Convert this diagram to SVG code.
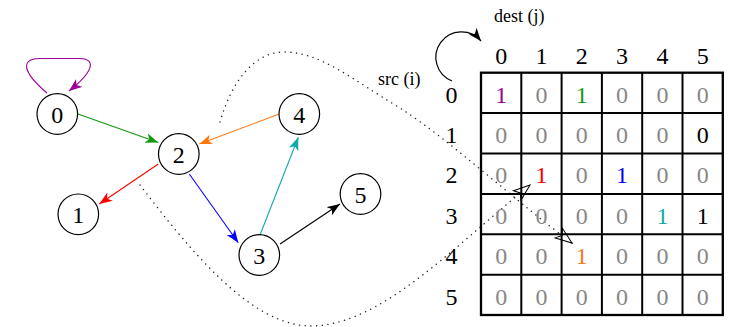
<svg xmlns="http://www.w3.org/2000/svg" width="737" height="327" viewBox="0 0 737 327">
<style>
.node circle{fill:#fff;stroke:#000;stroke-width:1.2}
text{font-family:"Liberation Serif","Times New Roman",serif}
.lbl{font-family:"Liberation Serif","Times New Roman",serif;font-size:24px;text-anchor:middle;fill:#000}
.cap{font-family:"Liberation Serif","Times New Roman",serif;font-size:18px;fill:#000}
.cell{font-family:"Liberation Serif","Times New Roman",serif;font-size:24px;text-anchor:middle;fill:#888}
.edge{fill:none;stroke-width:1.1}
.dot{fill:none;stroke:#222;stroke-width:1.4;stroke-linecap:round;stroke-dasharray:0.1 5.6}
.grid line{stroke:#000;stroke-width:2}
</style>
<defs>
<marker id="aGreen" markerUnits="userSpaceOnUse" markerWidth="16" markerHeight="12" refX="13" refY="5" orient="auto"><path d="M13,5 L0,0 L3.5,5 L0,10 Z" fill="#119911"/></marker>
<marker id="aOrange" markerUnits="userSpaceOnUse" markerWidth="16" markerHeight="12" refX="13" refY="5" orient="auto"><path d="M13,5 L0,0 L3.5,5 L0,10 Z" fill="#ff7711"/></marker>
<marker id="aRed" markerUnits="userSpaceOnUse" markerWidth="16" markerHeight="12" refX="13" refY="5" orient="auto"><path d="M13,5 L0,0 L3.5,5 L0,10 Z" fill="#ff0000"/></marker>
<marker id="aBlue" markerUnits="userSpaceOnUse" markerWidth="16" markerHeight="12" refX="13" refY="5" orient="auto"><path d="M13,5 L0,0 L3.5,5 L0,10 Z" fill="#0000ff"/></marker>
<marker id="aCyan" markerUnits="userSpaceOnUse" markerWidth="16" markerHeight="12" refX="13" refY="5" orient="auto"><path d="M13,5 L0,0 L3.5,5 L0,10 Z" fill="#11aaaa"/></marker>
<marker id="aBlack" markerUnits="userSpaceOnUse" markerWidth="16" markerHeight="12" refX="13" refY="5" orient="auto"><path d="M13,5 L0,0 L3.5,5 L0,10 Z" fill="#000"/></marker>
<marker id="aPurple" markerUnits="userSpaceOnUse" markerWidth="16" markerHeight="12" refX="13" refY="5" orient="auto"><path d="M13,5 L0,0 L3.5,5 L0,10 Z" fill="#990099"/></marker>
<marker id="aOpen" markerUnits="userSpaceOnUse" markerWidth="22" markerHeight="16" refX="18" refY="8" orient="auto"><path d="M18,8 L1.5,2 L5.5,8 L1.5,14 Z" fill="#fff" stroke="#000" stroke-width="1" stroke-linejoin="miter"/></marker>
</defs>

<g id="connectors">
<path class="edge" stroke="#990099" d="M47,93 C20,70 22,58.5 40,58.5 L80,58.5 C97,59 93,72 69,91" marker-end="url(#aPurple)"/>
<line class="edge" stroke="#119911" x1="78" y1="114" x2="158.3" y2="142.5" marker-end="url(#aGreen)"/>
<line class="edge" stroke="#ff7711" x1="279.3" y1="114" x2="199.3" y2="144" marker-end="url(#aOrange)"/>
<line class="edge" stroke="#ff0000" x1="158.3" y1="164" x2="99.3" y2="204" marker-end="url(#aRed)"/>
<line class="edge" stroke="#0000ff" x1="189.3" y1="174" x2="238.3" y2="242.7" marker-end="url(#aBlue)"/>
<line class="edge" stroke="#11aaaa" x1="260" y1="235" x2="298.3" y2="137.3" marker-end="url(#aCyan)"/>
<line class="edge" stroke="#000" x1="280" y1="244" x2="340" y2="204" marker-end="url(#aBlack)"/>
<path class="dot" d="M220,122 C232,80 255,52 284,52 C320,52 350,78 400,108 C450,140 520,205 572,243"/>
<path fill="none" stroke="none" d="M560,234 L572,243" marker-end="url(#aOpen)"/>
<path class="dot" d="M140,185 C190,250 250,325 310,326 C380,326 450,250 530,185"/>
<path fill="none" stroke="none" d="M519,194 L530,185" marker-end="url(#aOpen)"/>
<path fill="none" stroke="#000" stroke-width="1.2" d="M452,81 A25.5,25.5 0 1 1 481,41" marker-end="url(#aBlack)"/>
</g>

<g id="node0" class="node"><circle cx="57.3" cy="114" r="20.3"/><text class="lbl" x="57.3" y="122.5">0</text></g>
<g id="node1" class="node"><circle cx="78.3" cy="214.3" r="20.3"/><text class="lbl" x="78.3" y="222.8">1</text></g>
<g id="node2" class="node"><circle cx="178.8" cy="154" r="20.3"/><text class="lbl" x="178.8" y="162.5">2</text></g>
<g id="node3" class="node"><circle cx="259.3" cy="255" r="20.3"/><text class="lbl" x="259.3" y="263.5">3</text></g>
<g id="node4" class="node"><circle cx="299.3" cy="114" r="20.3"/><text class="lbl" x="299.3" y="122.5">4</text></g>
<g id="node5" class="node"><circle cx="360.5" cy="194" r="20.3"/><text class="lbl" x="360.5" y="202.5">5</text></g>

<g id="matrix">
<text class="cap" x="494" y="22">dest (j)</text>
<text class="cap" x="378" y="85">src (i)</text>
<g>
<text class="lbl" x="501.2" y="64">0</text>
<text class="lbl" x="541.5" y="64">1</text>
<text class="lbl" x="581.8" y="64">2</text>
<text class="lbl" x="622.1" y="64">3</text>
<text class="lbl" x="662.5" y="64">4</text>
<text class="lbl" x="702.8" y="64">5</text>
<text class="lbl" x="451.5" y="102.5">0</text>
<text class="lbl" x="451.5" y="142.9">1</text>
<text class="lbl" x="451.5" y="183.4">2</text>
<text class="lbl" x="451.5" y="223.8">3</text>
<text class="lbl" x="451.5" y="264.2">4</text>
<text class="lbl" x="451.5" y="304.6">5</text>
</g>
<g class="grid">
<rect x="481" y="72.7" width="241.8" height="242.3" fill="none" stroke="#000" stroke-width="2.3"/>
<line x1="521.3" y1="72.7" x2="521.3" y2="315"/>
<line x1="561.6" y1="72.7" x2="561.6" y2="315"/>
<line x1="601.9" y1="72.7" x2="601.9" y2="315"/>
<line x1="642.2" y1="72.7" x2="642.2" y2="315"/>
<line x1="682.5" y1="72.7" x2="682.5" y2="315"/>
<line x1="481" y1="113.1" x2="722.8" y2="113.1"/>
<line x1="481" y1="153.5" x2="722.8" y2="153.5"/>
<line x1="481" y1="193.9" x2="722.8" y2="193.9"/>
<line x1="481" y1="234.3" x2="722.8" y2="234.3"/>
<line x1="481" y1="274.7" x2="722.8" y2="274.7"/>
</g>
<g id="row0">
<text class="cell" x="501.2" y="102.5" style="fill:#990099">1</text>
<text class="cell" x="541.5" y="102.5">0</text>
<text class="cell" x="581.8" y="102.5" style="fill:#119911">1</text>
<text class="cell" x="622.1" y="102.5">0</text>
<text class="cell" x="662.5" y="102.5">0</text>
<text class="cell" x="702.8" y="102.5">0</text>
</g>
<g id="row1">
<text class="cell" x="501.2" y="142.9">0</text>
<text class="cell" x="541.5" y="142.9">0</text>
<text class="cell" x="581.8" y="142.9">0</text>
<text class="cell" x="622.1" y="142.9">0</text>
<text class="cell" x="662.5" y="142.9">0</text>
<text class="cell" x="702.8" y="142.9" style="fill:#000">0</text>
</g>
<g id="row2">
<text class="cell" x="501.2" y="183.4">0</text>
<text class="cell" x="541.5" y="183.4" style="fill:#ff0000">1</text>
<text class="cell" x="581.8" y="183.4">0</text>
<text class="cell" x="622.1" y="183.4" style="fill:#0000ff">1</text>
<text class="cell" x="662.5" y="183.4">0</text>
<text class="cell" x="702.8" y="183.4">0</text>
</g>
<g id="row3">
<text class="cell" x="501.2" y="223.8">0</text>
<text class="cell" x="541.5" y="223.8">0</text>
<text class="cell" x="581.8" y="223.8">0</text>
<text class="cell" x="622.1" y="223.8">0</text>
<text class="cell" x="662.5" y="223.8" style="fill:#11aaaa">1</text>
<text class="cell" x="702.8" y="223.8" style="fill:#000">1</text>
</g>
<g id="row4">
<text class="cell" x="501.2" y="264.2">0</text>
<text class="cell" x="541.5" y="264.2">0</text>
<text class="cell" x="581.8" y="264.2" style="fill:#ff7711">1</text>
<text class="cell" x="622.1" y="264.2">0</text>
<text class="cell" x="662.5" y="264.2">0</text>
<text class="cell" x="702.8" y="264.2">0</text>
</g>
<g id="row5">
<text class="cell" x="501.2" y="304.6">0</text>
<text class="cell" x="541.5" y="304.6">0</text>
<text class="cell" x="581.8" y="304.6">0</text>
<text class="cell" x="622.1" y="304.6">0</text>
<text class="cell" x="662.5" y="304.6">0</text>
<text class="cell" x="702.8" y="304.6">0</text>
</g>
</g>
</svg>
